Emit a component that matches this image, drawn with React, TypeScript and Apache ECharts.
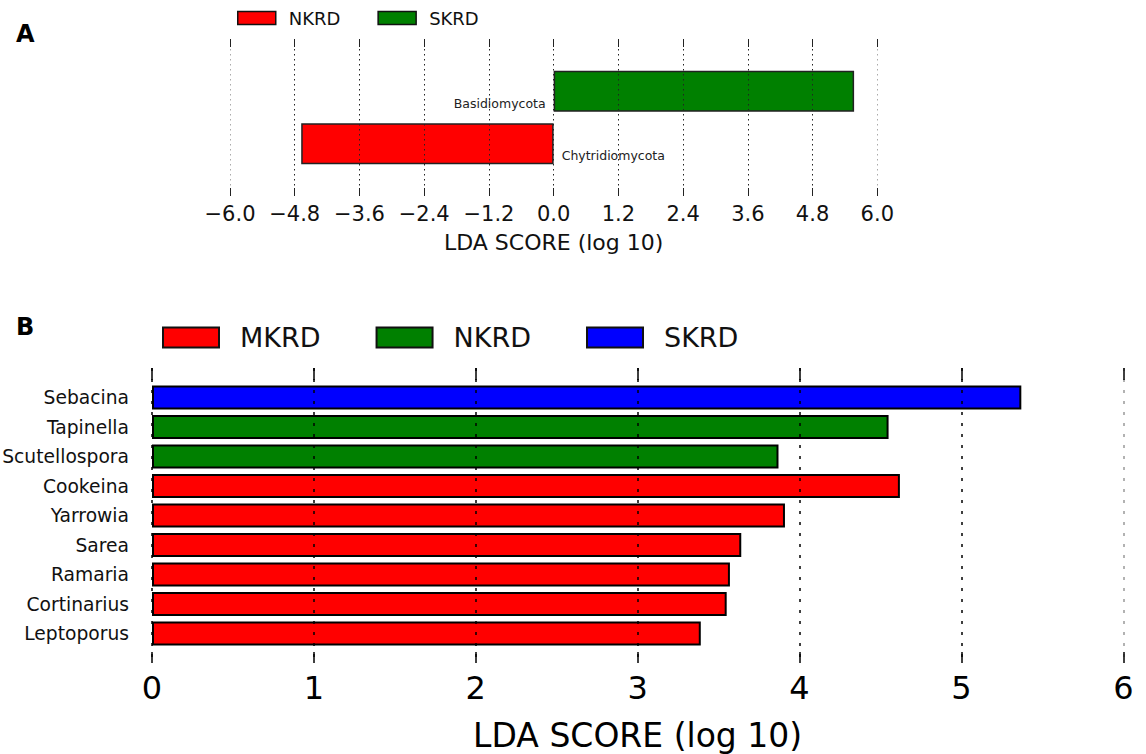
import React, { useEffect, useRef } from "react";
import * as echarts from "echarts";

// ---- Panel A data (phylum level) ----
const phyla = ["Basidiomycota", "Chytridiomycota"];
const phylumGroup = ["SKRD", "NKRD"];
const phylumScore = [5.57, -4.68];
const topGroups = ["NKRD", "SKRD"];
const topTicks = [-6.0, -4.8, -3.6, -2.4, -1.2, 0.0, 1.2, 2.4, 3.6, 4.8, 6.0];

// ---- Panel B data (genus level) ----
const genera = [
  "Sebacina",
  "Tapinella",
  "Scutellospora",
  "Cookeina",
  "Yarrowia",
  "Sarea",
  "Ramaria",
  "Cortinarius",
  "Leptoporus",
];
const genusGroup = ["SKRD", "NKRD", "NKRD", "MKRD", "MKRD", "MKRD", "MKRD", "MKRD", "MKRD"];
const genusScore = [5.37, 4.55, 3.87, 4.62, 3.91, 3.64, 3.57, 3.55, 3.39];
const bottomGroups = ["MKRD", "NKRD", "SKRD"];
const bottomTicks = [0, 1, 2, 3, 4, 5, 6];

const topColors: Record<string, string> = { NKRD: "#ff0000", SKRD: "#008000" };
const bottomColors: Record<string, string> = { MKRD: "#ff0000", NKRD: "#008000", SKRD: "#0000ff" };

const FONT = "DejaVu Sans";

export default function App() {
  const ref = useRef<HTMLDivElement>(null);

  useEffect(() => {
    if (!ref.current) return;
    const chart = echarts.init(ref.current, undefined, { renderer: "svg" });

    const topCats = [" ", ...phyla, "  "];
    const botCats = [" ", ...genera, "  "];

    const topSeries = topGroups.map((g) => ({
      type: "bar",
      name: g,
      xAxisIndex: 0,
      yAxisIndex: 0,
      barWidth: 41,
      barGap: "-100%",
      itemStyle: { color: topColors[g], borderColor: "#222", borderWidth: 1.5 },
      label: {
        show: true,
        formatter: (p: any) => p.name,
        fontSize: 12.5,
        fontFamily: FONT,
        color: "#222",
        distance: 8,
        offset: [0, 12],
      },
      data: [
        null,
        ...phyla.map((_, i) =>
          phylumGroup[i] === g
            ? { value: phylumScore[i], label: { position: phylumScore[i] >= 0 ? "left" : "right" } }
            : null
        ),
        null,
      ],
    }));

    const bottomSeries = bottomGroups.map((g) => ({
      type: "bar",
      name: g,
      xAxisIndex: 2,
      yAxisIndex: 1,
      barWidth: 24,
      barGap: "-100%",
      itemStyle: { color: bottomColors[g], borderColor: "#000", borderWidth: 2 },
      data: [null, ...genera.map((_, i) => (genusGroup[i] === g ? genusScore[i] : null)), null],
    }));

    const topGridColors = topTicks.map((t, i) => (i === 0 || i === topTicks.length - 1 ? "#aaa" : "#222"));
    const botGridColors = bottomTicks.map((t, i) => (i === bottomTicks.length - 1 ? "#999" : "#000"));

    chart.setOption({
      animation: false,
      textStyle: { fontFamily: FONT },
      title: [
        { text: "A", left: 11, top: 17, textStyle: { fontSize: 24, fontWeight: "bold", fontFamily: FONT, color: "#000" } },
        { text: "B", left: 11, top: 310, textStyle: { fontSize: 24, fontWeight: "bold", fontFamily: FONT, color: "#000" } },
      ],
      legend: [
        {
          left: 232,
          top: 4,
          itemWidth: 38,
          itemHeight: 13,
          itemGap: 37,
          selectedMode: false,
          textStyle: { fontSize: 18, fontFamily: FONT, color: "#111", padding: [0, 0, 0, 8] },
          data: topGroups.map((g) => ({
            name: g,
            icon: "rect",
            itemStyle: { color: topColors[g], borderColor: "#111", borderWidth: 1.5 },
          })),
        },
        {
          left: 157,
          top: 319,
          itemWidth: 56,
          itemHeight: 20,
          itemGap: 55,
          selectedMode: false,
          textStyle: { fontSize: 27, fontFamily: FONT, color: "#111", padding: [0, 0, 0, 16] },
          data: bottomGroups.map((g) => ({
            name: g,
            icon: "rect",
            itemStyle: { color: bottomColors[g], borderColor: "#111", borderWidth: 2 },
          })),
        },
      ],
      grid: [
        { left: 230, right: 268.7, top: 39, height: 157, containLabel: false, outerBoundsMode: "none" },
        { left: 152, right: 22.7, top: 368, height: 295, containLabel: false, outerBoundsMode: "none" },
      ],
      xAxis: [
        {
          type: "value",
          gridIndex: 0,
          position: "bottom",
          min: topTicks[0],
          max: topTicks[topTicks.length - 1],
          interval: 1.2,
          z: 5,
          axisLine: { show: false },
          axisTick: { show: true, inside: true, length: 8, lineStyle: { color: "#222", width: 1 } },
          axisLabel: {
            fontSize: 21,
            fontFamily: FONT,
            color: "#111",
            margin: 7,
            formatter: (v: number) => v.toFixed(1).replace("-", "\u2212"),
          },
          splitLine: { show: true, lineStyle: { color: topGridColors, type: [1.5, 3.5], width: 1 } },
          name: "LDA SCORE (log 10)",
          nameLocation: "middle",
          nameGap: 35,
          nameTextStyle: { fontSize: 22, fontFamily: FONT, color: "#111" },
        },
        {
          type: "value",
          gridIndex: 0,
          position: "top",
          min: topTicks[0],
          max: topTicks[topTicks.length - 1],
          interval: 1.2,
          z: 5,
          axisLine: { show: false },
          axisTick: { show: true, inside: true, length: 8, lineStyle: { color: "#222", width: 1 } },
          axisLabel: { show: false },
          splitLine: { show: false },
        },
        {
          type: "value",
          gridIndex: 1,
          position: "bottom",
          min: bottomTicks[0],
          max: bottomTicks[bottomTicks.length - 1],
          interval: 1,
          z: 5,
          axisLine: { show: false },
          axisTick: { show: true, inside: true, length: 11, lineStyle: { color: "#000", width: 1.5 } },
          axisLabel: { fontSize: 32, fontFamily: FONT, color: "#000", margin: 9 },
          splitLine: { show: true, lineStyle: { color: botGridColors, type: [3, 8], width: 1.5 } },
          name: "LDA SCORE (log 10)",
          nameLocation: "middle",
          nameGap: 56,
          nameTextStyle: { fontSize: 33, fontFamily: FONT, color: "#000" },
        },
        {
          type: "value",
          gridIndex: 1,
          position: "top",
          min: bottomTicks[0],
          max: bottomTicks[bottomTicks.length - 1],
          interval: 1,
          z: 5,
          axisLine: { show: false },
          axisTick: { show: true, inside: true, length: 12, lineStyle: { color: "#000", width: 1.5 } },
          axisLabel: { show: false },
          splitLine: { show: false },
        },
      ],
      yAxis: [
        {
          type: "category",
          gridIndex: 0,
          data: topCats,
          inverse: true,
          boundaryGap: false,
          axisLine: { show: false },
          axisTick: { show: false },
          axisLabel: { show: false },
          splitLine: { show: false },
        },
        {
          type: "category",
          gridIndex: 1,
          data: botCats,
          inverse: true,
          boundaryGap: false,
          axisLine: { show: false },
          axisTick: { show: false },
          axisLabel: { fontSize: 18.7, fontFamily: FONT, color: "#111", margin: 23, interval: 0 },
          splitLine: { show: false },
        },
      ],
      series: [...topSeries, ...bottomSeries],
    });

    return () => chart.dispose();
  }, []);

  return (
    <div
      ref={ref}
      style={{ position: "absolute", left: 0, top: 0, width: 1146, height: 754, background: "#fff" }}
    />
  );
}
